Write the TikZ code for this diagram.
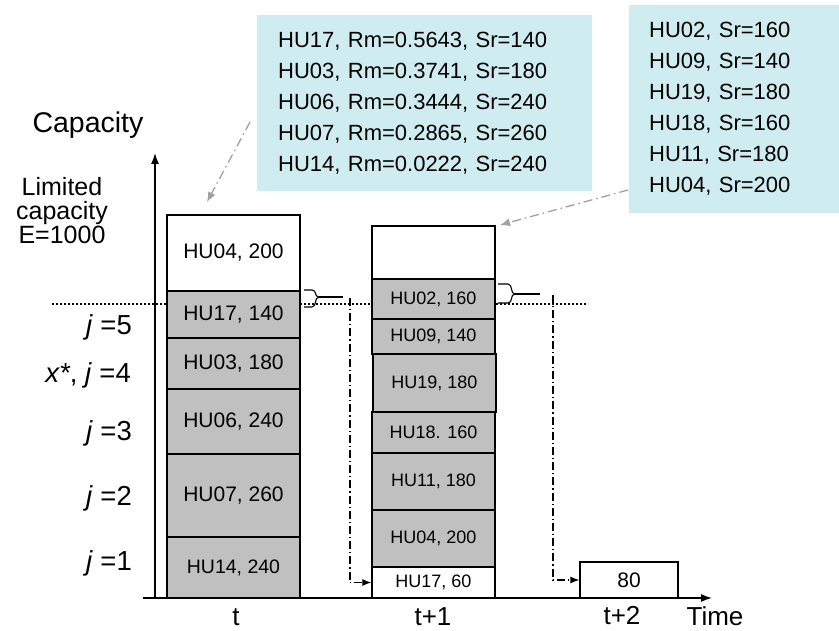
\documentclass[tikz,border=0pt]{standalone}
\usepackage{fontspec}
\setmainfont{Liberation Sans}
\usetikzlibrary{arrows.meta}
\definecolor{callfill}{RGB}{207,236,240}
\definecolor{cellgray}{RGB}{192,192,192}
\definecolor{arrgray}{RGB}{160,160,160}
\tikzset{
  cellbox/.style={draw=black, line width=1.3pt, inner sep=0pt, font=\fontsize{21}{25}\selectfont},
  cellA/.style={cellbox, minimum width=133pt},
  cellB/.style={cellbox, minimum width=123pt, font=\fontsize{18}{22}\selectfont},
  shaded/.style={fill=cellgray},
  blank/.style={fill=white},
  axislbl/.style={font=\fontsize{25}{24}\selectfont, inner sep=0pt},
  jlbl/.style={font=\fontsize{27.5}{30}\selectfont, inner sep=0pt, anchor=east},
  timelbl/.style={font=\fontsize{26}{28}\selectfont, inner sep=0pt, anchor=base},
  callout/.style={fill=callfill, draw=none, align=left, inner ysep=0pt, anchor=north west,
    font=\fontsize{22}{31}\selectfont},
  dashdot/.style={line width=1.1pt, dash pattern=on 8pt off 3pt on 1.2pt off 3pt},
  graydd/.style={arrgray, line width=1.3pt, dash pattern=on 9pt off 4pt on 1.5pt off 4pt, -{Latex[length=10pt,width=8pt]}},
  brace/.style={line width=1.1pt}
}
\begin{document}
\begin{tikzpicture}[x=1pt,y=-1pt]
\useasboundingbox (0,0) rectangle (839,631);
% dotted capacity line
\coordinate (dotL) at (52,304);
\coordinate (dotR) at (588,304);
\draw[line width=1.5pt, dash pattern=on 2pt off 2pt] (dotL) -- (dotR);
% axes
\coordinate (origin) at (155,598);
\coordinate (ytop) at (155,153);
\coordinate (xleft) at (143,598);
\coordinate (xright) at (712,598);
\draw[line width=1.3pt, -{Latex[length=11pt,width=8pt]}] (origin) -- (ytop);
\draw[line width=1.3pt, -{Latex[length=11pt,width=8pt]}] (xleft) -- (xright);
% column t
\node[cellA, blank]  (a6) at (233.5,253)   [minimum height=76pt] {HU04, 200};
\node[cellA, shaded] (a5) at (233.5,314.5) [minimum height=47pt] {HU17, 140};
\node[cellA, shaded] (a4) at (233.5,363.5) [minimum height=51pt] {HU03, 180};
\node[cellA, shaded] (a3) at (233.5,421.5) [minimum height=65pt] {HU06, 240};
\node[cellA, shaded] (a2) at (233.5,495.5) [minimum height=83pt] {HU07, 260};
\node[cellA, shaded, font=\fontsize{19.5}{23}\selectfont] (a1) at (233.5,567.5) [minimum height=61pt] {HU14, 240};
% column t+1
\node[cellB, blank]  (b8) at (433.5,252.5) [minimum height=53pt] {};
\node[cellB, shaded] (b7) at (433.5,299)   [minimum height=40pt] {HU02, 160};
\node[cellB, shaded] (b6) at (433.5,336.5) [minimum height=35pt] {HU09, 140};
\node[cellB, shaded] (b5) at (434.5,383)   [minimum height=58pt] {HU19, 180};
\node[cellB, shaded] (b4) at (433.5,432.5) [minimum height=41pt] {HU18. 160};
\node[cellB, shaded] (b3) at (433.5,481.5) [minimum height=57pt] {HU11, 180};
\node[cellB, shaded] (b2) at (433.5,538.5) [minimum height=57pt] {HU04, 200};
\node[cellB, blank]  (b1) at (433.5,582.5) [minimum height=31pt] {HU17, 60};
% column t+2
\node[cellbox, blank, minimum width=98pt, minimum height=36pt] (c1) at (629,580) {80};
% braces and carry-over connectors
\coordinate (brA) at (319,297);
\coordinate (brAend) at (343,297);
\draw[brace] (304,290) -- (312,290) .. controls (317,290) and (314,297) .. (brA)
  .. controls (314,297) and (317,307) .. (312,307) -- (304,307);
\draw[brace] (brA) -- (brAend);
\coordinate (ddA1) at (350,298);
\coordinate (ddA2) at (350,582.5);
\draw[dashdot, -{Latex[length=9pt,width=7pt]}] (ddA1) -- (ddA2) -- (b1.west);
\coordinate (brB) at (515,294);
\coordinate (brBend) at (540,294);
\draw[brace] (498,284) -- (508,284) .. controls (513,284) and (510,294) .. (brB)
  .. controls (510,294) and (513,303) .. (508,303) -- (498,303);
\draw[brace] (brB) -- (brBend);
\coordinate (ddB1) at (553,295);
\coordinate (ddB2) at (553,580);
\draw[dashdot, -{Latex[length=9pt,width=7pt]}] (ddB1) -- (ddB2) -- (c1.west);
% callouts
\node[callout, text width=293pt, inner xsep=21pt, minimum height=176pt] (callL) at (257,15)
  {HU17, Rm=0.5643, Sr=140\\HU03, Rm=0.3741, Sr=180\\HU06, Rm=0.3444, Sr=240\\HU07, Rm=0.2865, Sr=260\\HU14, Rm=0.0222, Sr=240};
\node[callout, text width=170pt, inner xsep=20pt, minimum height=208pt] (callR) at (629,5)
  {HU02, Sr=160\\HU09, Sr=140\\HU19, Sr=180\\HU18, Sr=160\\HU11, Sr=180\\HU04, Sr=200};
\coordinate (gLs) at (250,122);
\coordinate (gLe) at (207,202);
\draw[graydd] (gLs) -- (gLe);
\coordinate (gRs) at (628,190);
\coordinate (gRe) at (500,225);
\draw[graydd] (gRs) -- (gRe);
% left labels
\node[axislbl, font=\fontsize{28.5}{30}\selectfont] (cap) at (88,125) {Capacity};
\node[axislbl, align=center] (lim) at (62,211) {Limited\\capacity\\E=1000};
\node[jlbl] (j5) at (132,327) {\textit{j} =5};
\node[jlbl] (j4) at (131,375) {\textit{x*}, \textit{j} =4};
\node[jlbl] (j3) at (132,433) {\textit{j} =3};
\node[jlbl] (j2) at (132,498) {\textit{j} =2};
\node[jlbl] (j1) at (132,563) {\textit{j} =1};
% time labels
\node[timelbl] (tt) at (236,625.5) {t};
\node[timelbl] (tt1) at (433,625.5) {t+1};
\node[timelbl] (tt2) at (622,624.5) {t+2};
\node[timelbl] (time) at (715,625.5) {Time};
\end{tikzpicture}
\end{document}
